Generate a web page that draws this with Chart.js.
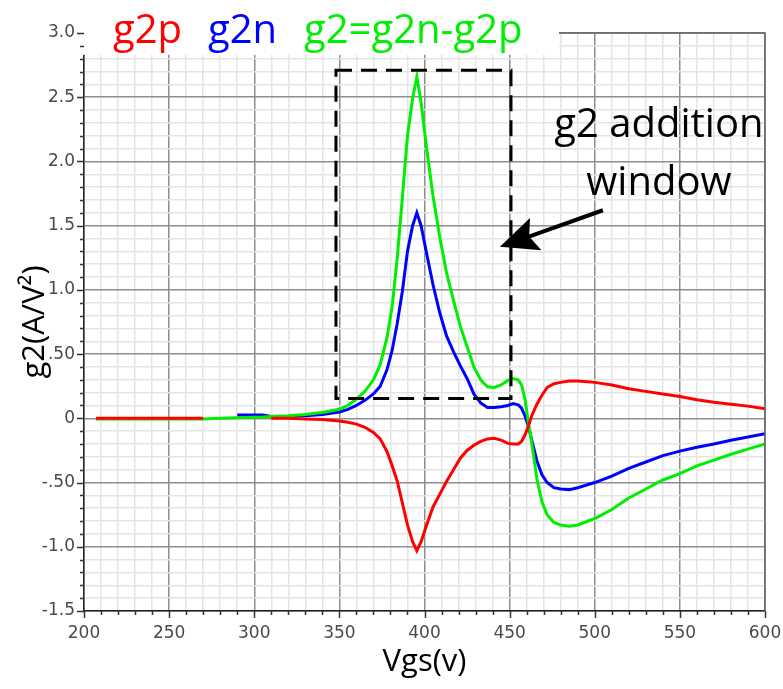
<!DOCTYPE html>
<html>
<head>
<meta charset="utf-8">
<script src="https://cdn.jsdelivr.net/npm/chart.js@4.4.0/dist/chart.umd.min.js"></script>
<style>
  html, body { margin: 0; padding: 0; background: #fff; }
  #g2Chart { display: block; }
</style>
</head>
<body>
<canvas id="g2Chart" width="783" height="689"></canvas>
<script>
// gate voltage sweep (mV)
var vgs = [207, 230, 250, 270, 280, 290, 305, 310, 320, 330, 340, 350, 355, 360, 365, 370, 374, 378, 381, 384,
  387, 390, 393, 395.5, 398, 401, 405, 409, 413, 417, 421, 425, 429, 433, 437, 441, 445, 449, 452, 455,
  457, 459, 461, 463, 466, 469, 472, 476, 480, 485, 490, 500, 510, 520, 530, 540, 550, 560, 570, 580, 590, 600];

var g2p = [0, 0, 0, 0, null, null, null, 0, 0, -0.005, -0.01, -0.02, -0.03, -0.045, -0.07, -0.11, -0.16, -0.26, -0.37, -0.49,
  -0.66, -0.83, -0.96, -1.03, -0.96, -0.84, -0.69, -0.59, -0.49, -0.40, -0.31, -0.25, -0.21, -0.18, -0.16, -0.155, -0.17, -0.195, -0.20, -0.20,
  -0.18, -0.13, -0.06, 0.02, 0.11, 0.18, 0.24, 0.27, 0.28, 0.29, 0.29, 0.28, 0.26, 0.23, 0.21, 0.19, 0.17, 0.145, 0.125, 0.11, 0.095, 0.075];

var g2n = [null, null, null, null, null, 0.025, 0.025, 0.015, 0.015, 0.02, 0.03, 0.05, 0.07, 0.10, 0.14, 0.19, 0.25, 0.38, 0.53, 0.74,
  0.99, 1.30, 1.50, 1.60, 1.50, 1.30, 1.04, 0.82, 0.64, 0.52, 0.41, 0.31, 0.19, 0.12, 0.085, 0.085, 0.09, 0.10, 0.115, 0.105,
  0.08, 0.02, -0.06, -0.17, -0.33, -0.44, -0.50, -0.54, -0.55, -0.555, -0.54, -0.50, -0.45, -0.39, -0.34, -0.29, -0.255, -0.225, -0.20, -0.17, -0.145, -0.12];

var g2 = [-0.005, -0.005, -0.005, -0.005, 0, 0.005, 0.01, 0.015, 0.02, 0.03, 0.045, 0.07, 0.10, 0.15, 0.21, 0.30, 0.42, 0.63, 0.87, 1.25,
  1.72, 2.20, 2.49, 2.66, 2.46, 2.13, 1.73, 1.41, 1.13, 0.92, 0.72, 0.56, 0.40, 0.30, 0.245, 0.24, 0.26, 0.295, 0.31, 0.30,
  0.26, 0.15, -0.03, -0.19, -0.47, -0.65, -0.75, -0.81, -0.83, -0.84, -0.83, -0.78, -0.71, -0.62, -0.55, -0.48, -0.43, -0.37, -0.325, -0.28, -0.24, -0.20];

var yTickValues = [-1.5, -1.0, -0.5, 0, 0.5, 1.0, 1.5, 2.0, 2.5, 3.0];
var yTickLabels = ['-1.5', '-1.0', '-.50', '0', '.50', '1.0', '1.5', '2.0', '2.5', '3.0'];

// dashed "addition window" box and arrow, in axis units
var windowVgs = [348, 450.8];
var windowG2 = [0.155, 2.71];
var arrowFrom = [504.8, 1.62];
var arrowTo = [444.3, 1.335];

function points(ys) {
  return vgs.map(function(v, i) { return { x: v, y: ys[i] }; });
}

function isMajorX(v) { return Math.round(v) % 50 === 0; }
function isMajorY(v) { return Math.round(v * 10) % 5 === 0; }

var decorPlugin = {
  id: 'decor',
  afterDraw: function(chart) {
    var ctx = chart.ctx;
    var xs = chart.scales.x, ys = chart.scales.y;
    var area = chart.chartArea;
    var headerRight = xs.getPixelForValue(479);
    var headerBottom = ys.getPixelForValue(2.83);
    ctx.save();

    // blank strip under the header labels
    ctx.fillStyle = '#fff';
    ctx.fillRect(area.left - 1, 0, headerRight - area.left + 1, headerBottom);

    // tick marks
    ctx.strokeStyle = '#333';
    ctx.lineWidth = 1.5;
    ctx.beginPath();
    for (var v = 200; v <= 600; v += 10) {
      var px = Math.round(xs.getPixelForValue(v)) + 0.5;
      var len = isMajorX(v) ? 7 : 4;
      ctx.moveTo(px, area.bottom);
      ctx.lineTo(px, area.bottom + len);
    }
    for (var k = -15; k <= 30; k++) {
      var py = Math.round(ys.getPixelForValue(k / 10)) + 0.5;
      var l = (k % 5 === 0) ? 7 : 4;
      ctx.moveTo(area.left - l, py);
      ctx.lineTo(area.left, py);
    }
    ctx.stroke();

    // frame on top and right
    ctx.strokeStyle = '#666';
    ctx.lineWidth = 1.5;
    ctx.beginPath();
    ctx.moveTo(headerRight, area.top);
    ctx.lineTo(area.right, area.top);
    ctx.lineTo(area.right, area.bottom);
    ctx.stroke();

    // header
    ctx.font = '40px "Open Sans"';
    ctx.textAlign = 'left';
    ctx.textBaseline = 'alphabetic';
    ctx.fillStyle = '#ff0000';
    ctx.fillText('g2p', 113, 43);
    ctx.fillStyle = '#0000ff';
    ctx.fillText('g2n', 208, 43);
    ctx.fillStyle = '#00ee00';
    ctx.fillText('g2=g2n-g2p', 304, 43);

    // dashed window
    var x0 = xs.getPixelForValue(windowVgs[0]), x1 = xs.getPixelForValue(windowVgs[1]);
    var y0 = ys.getPixelForValue(windowG2[1]), y1 = ys.getPixelForValue(windowG2[0]);
    ctx.strokeStyle = '#000';
    ctx.lineWidth = 3;
    ctx.setLineDash([16, 9]);
    ctx.strokeRect(x0, y0, x1 - x0, y1 - y0);
    ctx.setLineDash([]);

    // arrow pointing at the window
    var ax = xs.getPixelForValue(arrowFrom[0]), ay = ys.getPixelForValue(arrowFrom[1]);
    var bx = xs.getPixelForValue(arrowTo[0]), by = ys.getPixelForValue(arrowTo[1]);
    var ang = Math.atan2(by - ay, bx - ax);
    var headLen = 38, halfW = 17;
    var baseX = bx - headLen * Math.cos(ang), baseY = by - headLen * Math.sin(ang);
    ctx.lineWidth = 4;
    ctx.beginPath();
    ctx.moveTo(ax, ay);
    ctx.lineTo(baseX + 8 * Math.cos(ang), baseY + 8 * Math.sin(ang));
    ctx.stroke();
    ctx.fillStyle = '#000';
    ctx.beginPath();
    ctx.moveTo(bx, by);
    ctx.lineTo(baseX - halfW * Math.sin(ang), baseY + halfW * Math.cos(ang));
    ctx.lineTo(baseX + 7 * Math.cos(ang), baseY + 7 * Math.sin(ang));
    ctx.lineTo(baseX + halfW * Math.sin(ang), baseY - halfW * Math.cos(ang));
    ctx.closePath();
    ctx.fill();

    // window caption
    var cx = xs.getPixelForValue(537.7);
    ctx.font = '40px "Open Sans"';
    ctx.textAlign = 'center';
    ctx.fillText('g2 addition', cx, ys.getPixelForValue(2.19));
    ctx.fillText('window', cx, ys.getPixelForValue(1.735));

    ctx.restore();
  }
};

var ctx = document.getElementById('g2Chart');
new Chart(ctx, {
  type: 'line',
  data: {
    datasets: [{
      label: 'g2p',
      data: points(g2p),
      borderColor: '#ff0000',
      borderWidth: 3,
      pointRadius: 0,
      tension: 0
    }, {
      label: 'g2=g2n-g2p',
      data: points(g2),
      borderColor: '#00ee00',
      borderWidth: 3,
      pointRadius: 0,
      tension: 0
    }, {
      label: 'g2n',
      data: points(g2n),
      borderColor: '#0000ff',
      borderWidth: 3,
      pointRadius: 0,
      tension: 0
    }]
  },
  options: {
    responsive: false,
    animation: false,
    devicePixelRatio: 1,
    layout: { padding: { top: 33, right: 18, left: 0, bottom: 0 } },
    plugins: {
      legend: { display: false },
      tooltip: { enabled: false }
    },
    scales: {
      x: {
        type: 'linear',
        min: 200,
        max: 600,
        afterFit: function(scale) {
          scale.height = 78;
          scale.paddingLeft = 0;
          scale.paddingRight = 0;
        },
        ticks: {
          stepSize: 10,
          autoSkip: false,
          maxRotation: 0,
          padding: 12,
          color: '#4a4a4a',
          font: { family: 'DejaVu Sans', size: 17 },
          callback: function(v) { return isMajorX(v) ? String(v) : ''; }
        },
        grid: {
          drawTicks: false,
          color: function(c) { return isMajorX(c.tick.value) ? '#8e8e8e' : '#e4e4e4'; },
          lineWidth: 1.5
        },
        border: { color: '#222', width: 1.5 },
        title: {
          display: true,
          text: 'Vgs(v)',
          color: '#000',
          font: { family: 'Open Sans', size: 31 },
          padding: { top: 0, bottom: 8 }
        }
      },
      y: {
        min: -1.5,
        max: 3.0,
        afterFit: function(scale) {
          scale.width = 84;
          scale.paddingTop = 0;
          scale.paddingBottom = 0;
        },
        ticks: {
          stepSize: 0.1,
          autoSkip: false,
          padding: 9,
          color: '#4a4a4a',
          font: { family: 'DejaVu Sans', size: 17 },
          callback: function(v) {
            for (var i = 0; i < yTickValues.length; i++) {
              if (Math.abs(yTickValues[i] - v) < 1e-6) return yTickLabels[i];
            }
            return '';
          }
        },
        grid: {
          drawTicks: false,
          color: function(c) { return isMajorY(c.tick.value) ? '#8e8e8e' : '#e4e4e4'; },
          lineWidth: 1.5
        },
        border: { color: '#222', width: 1.5 },
        title: {
          display: true,
          text: 'g2(A/V²)',
          color: '#000',
          font: { family: 'Open Sans', size: 31 },
          padding: { top: 17, bottom: 0 }
        }
      }
    }
  },
  plugins: [decorPlugin]
});
</script>
</body>
</html>
